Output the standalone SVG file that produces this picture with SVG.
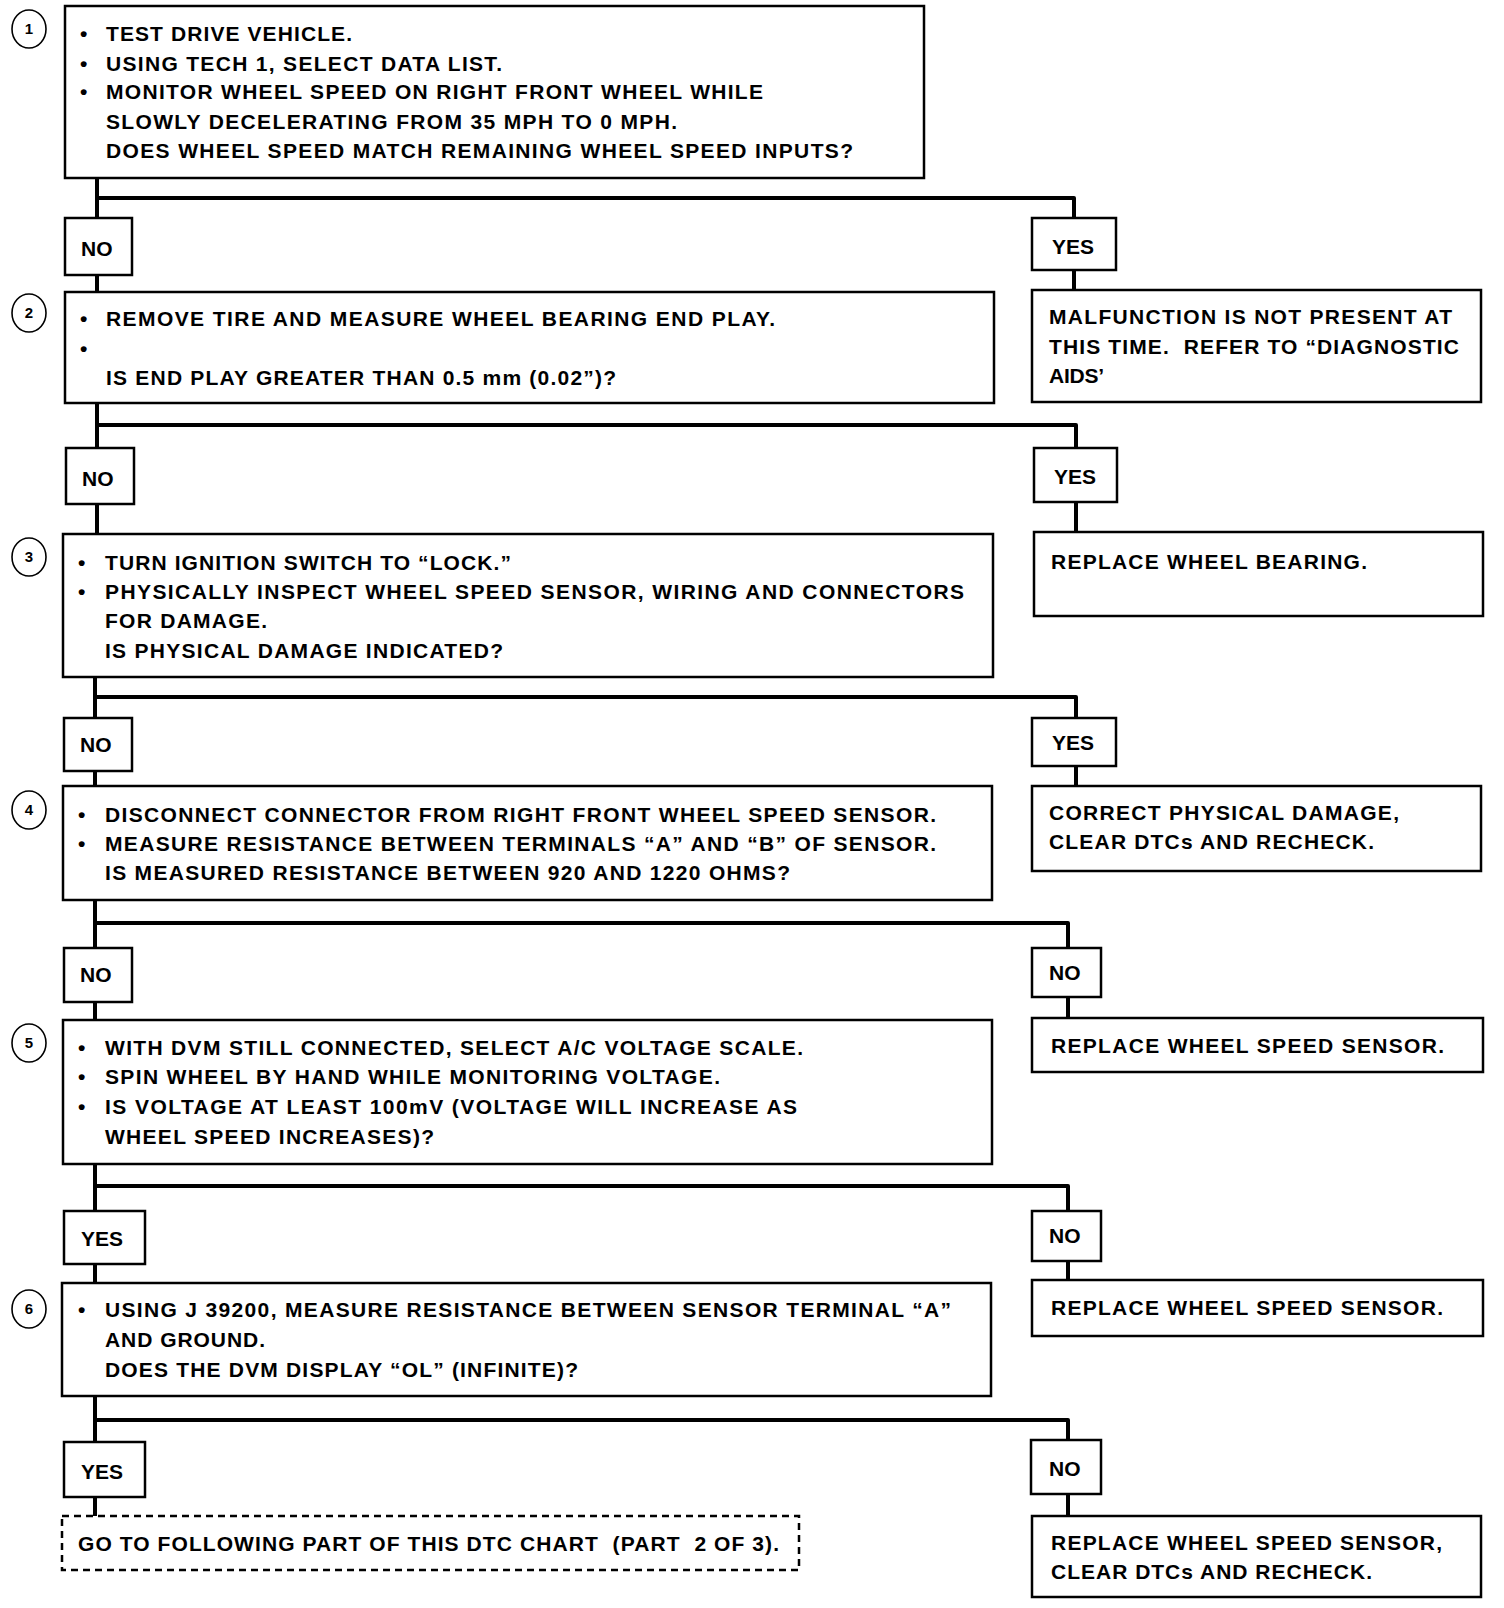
<svg xmlns="http://www.w3.org/2000/svg" width="1504" height="1608" viewBox="0 0 1504 1608">
<style>
.box{fill:#fff;stroke:#000;stroke-width:2.5}
.dash{fill:#fff;stroke:#000;stroke-width:2.5;stroke-dasharray:7 5}
.num{fill:#fff;stroke:#000;stroke-width:1.6}
.t{font-family:"Liberation Sans",Arial,sans-serif;font-weight:bold;font-size:21px;fill:#000}
.p{white-space:pre}
.n{font-family:"Liberation Sans",Arial,sans-serif;font-weight:bold;font-size:15px;fill:#000;text-anchor:middle}
.c{fill:none;stroke:#000;stroke-width:4;stroke-linejoin:round}
</style>
<rect width="1504" height="1608" fill="#fff"/>
<g id="connectors">
<path class="c" d="M97 178V218M97 198H1074V218M97 275V292M1074 270V290"/>
<path class="c" d="M97 403V448M97 425H1076V448M97 504V534M1076 502V532"/>
<path class="c" d="M95 677V718M95 697H1076V718M95 771V786M1076 766V786"/>
<path class="c" d="M95 900V948M95 923H1068V948M95 1002V1020M1068 997V1018"/>
<path class="c" d="M95 1164V1211M95 1186H1068V1211M95 1264V1283M1068 1261V1280"/>
<path class="c" d="M95 1396V1442M95 1420H1068V1440M95 1497V1516M1068 1494V1516"/>
</g>
<g id="step1">
<ellipse class="num" cx="29" cy="29" rx="17" ry="19"/><text class="n" x="29" y="34">1</text>
<rect class="box" x="65" y="6" width="859" height="172"/>
<text class="t" x="80" y="41">•</text><text class="t" x="106" y="41" textLength="246" lengthAdjust="spacing">TEST DRIVE VEHICLE.</text>
<text class="t" x="80" y="71">•</text><text class="t" x="106" y="71" textLength="396" lengthAdjust="spacing">USING TECH 1, SELECT DATA LIST.</text>
<text class="t" x="80" y="99">•</text><text class="t" x="106" y="99" textLength="657" lengthAdjust="spacing">MONITOR WHEEL SPEED ON RIGHT FRONT WHEEL WHILE</text>
<text class="t" x="106" y="129" textLength="571" lengthAdjust="spacing">SLOWLY DECELERATING FROM 35 MPH TO 0 MPH.</text>
<text class="t" x="106" y="158" textLength="747" lengthAdjust="spacing">DOES WHEEL SPEED MATCH REMAINING WHEEL SPEED INPUTS?</text>
</g>
<g id="no1"><rect class="box" x="65" y="218" width="67" height="57"/><text class="t" x="81" y="256">NO</text></g>
<g id="yes1"><rect class="box" x="1032" y="218" width="84" height="52"/><text class="t" x="1052" y="254">YES</text></g>
<g id="result1">
<rect class="box" x="1032" y="290" width="449" height="112"/>
<text class="t" x="1049" y="324" textLength="403" lengthAdjust="spacing">MALFUNCTION IS NOT PRESENT AT</text>
<text class="t p" x="1049" y="354" textLength="410" lengthAdjust="spacing">THIS TIME.  REFER TO “DIAGNOSTIC</text>
<text class="t" x="1049" y="383" textLength="55" lengthAdjust="spacing">AIDS’</text>
</g>
<g id="step2">
<ellipse class="num" cx="29" cy="313" rx="17" ry="19"/><text class="n" x="29" y="318">2</text>
<rect class="box" x="65" y="292" width="929" height="111"/>
<text class="t" x="80" y="326">•</text><text class="t" x="106" y="326" textLength="669" lengthAdjust="spacing">REMOVE TIRE AND MEASURE WHEEL BEARING END PLAY.</text>
<text class="t" x="80" y="356">•</text>
<text class="t" x="106" y="385" textLength="510" lengthAdjust="spacing">IS END PLAY GREATER THAN 0.5 mm (0.02”)?</text>
</g>
<g id="no2"><rect class="box" x="66" y="448" width="68" height="56"/><text class="t" x="82" y="486">NO</text></g>
<g id="yes2"><rect class="box" x="1034" y="448" width="83" height="54"/><text class="t" x="1054" y="484">YES</text></g>
<g id="result2">
<rect class="box" x="1034" y="532" width="449" height="84"/>
<text class="t" x="1051" y="569" textLength="316" lengthAdjust="spacing">REPLACE WHEEL BEARING.</text>
</g>
<g id="step3">
<ellipse class="num" cx="29" cy="557" rx="17" ry="19"/><text class="n" x="29" y="562">3</text>
<rect class="box" x="63" y="534" width="930" height="143"/>
<text class="t" x="78" y="570">•</text><text class="t" x="105" y="570" textLength="406" lengthAdjust="spacing">TURN IGNITION SWITCH TO “LOCK.”</text>
<text class="t" x="78" y="599">•</text><text class="t" x="105" y="599" textLength="859" lengthAdjust="spacing">PHYSICALLY INSPECT WHEEL SPEED SENSOR, WIRING AND CONNECTORS</text>
<text class="t" x="105" y="628" textLength="162" lengthAdjust="spacing">FOR DAMAGE.</text>
<text class="t" x="105" y="658" textLength="398" lengthAdjust="spacing">IS PHYSICAL DAMAGE INDICATED?</text>
</g>
<g id="no3"><rect class="box" x="64" y="718" width="68" height="53"/><text class="t" x="80" y="752">NO</text></g>
<g id="yes3"><rect class="box" x="1032" y="718" width="84" height="48"/><text class="t" x="1052" y="750">YES</text></g>
<g id="result3">
<rect class="box" x="1032" y="786" width="449" height="85"/>
<text class="t" x="1049" y="820" textLength="350" lengthAdjust="spacing">CORRECT PHYSICAL DAMAGE,</text>
<text class="t" x="1049" y="849" textLength="325" lengthAdjust="spacing">CLEAR DTCs AND RECHECK.</text>
</g>
<g id="step4">
<ellipse class="num" cx="29" cy="810" rx="17" ry="19"/><text class="n" x="29" y="815">4</text>
<rect class="box" x="63" y="786" width="929" height="114"/>
<text class="t" x="78" y="822">•</text><text class="t" x="105" y="822" textLength="831" lengthAdjust="spacing">DISCONNECT CONNECTOR FROM RIGHT FRONT WHEEL SPEED SENSOR.</text>
<text class="t" x="78" y="851">•</text><text class="t" x="105" y="851" textLength="831" lengthAdjust="spacing">MEASURE RESISTANCE BETWEEN TERMINALS “A” AND “B” OF SENSOR.</text>
<text class="t" x="105" y="880" textLength="685" lengthAdjust="spacing">IS MEASURED RESISTANCE BETWEEN 920 AND 1220 OHMS?</text>
</g>
<g id="no4"><rect class="box" x="64" y="948" width="68" height="54"/><text class="t" x="80" y="982">NO</text></g>
<g id="no4r"><rect class="box" x="1032" y="948" width="69" height="49"/><text class="t" x="1049" y="980">NO</text></g>
<g id="result4">
<rect class="box" x="1032" y="1018" width="451" height="54"/>
<text class="t" x="1051" y="1053" textLength="393" lengthAdjust="spacing">REPLACE WHEEL SPEED SENSOR.</text>
</g>
<g id="step5">
<ellipse class="num" cx="29" cy="1043" rx="17" ry="19"/><text class="n" x="29" y="1048">5</text>
<rect class="box" x="63" y="1020" width="929" height="144"/>
<text class="t" x="78" y="1055">•</text><text class="t" x="105" y="1055" textLength="698" lengthAdjust="spacing">WITH DVM STILL CONNECTED, SELECT A/C VOLTAGE SCALE.</text>
<text class="t" x="78" y="1084">•</text><text class="t" x="105" y="1084" textLength="615" lengthAdjust="spacing">SPIN WHEEL BY HAND WHILE MONITORING VOLTAGE.</text>
<text class="t" x="78" y="1114">•</text><text class="t" x="105" y="1114" textLength="692" lengthAdjust="spacing">IS VOLTAGE AT LEAST 100mV (VOLTAGE WILL INCREASE AS</text>
<text class="t" x="105" y="1144" textLength="329" lengthAdjust="spacing">WHEEL SPEED INCREASES)?</text>
</g>
<g id="yes5"><rect class="box" x="64" y="1211" width="81" height="53"/><text class="t" x="81" y="1246">YES</text></g>
<g id="no5r"><rect class="box" x="1032" y="1211" width="69" height="50"/><text class="t" x="1049" y="1243">NO</text></g>
<g id="result5">
<rect class="box" x="1032" y="1280" width="451" height="56"/>
<text class="t" x="1051" y="1315" textLength="392" lengthAdjust="spacing">REPLACE WHEEL SPEED SENSOR.</text>
</g>
<g id="step6">
<ellipse class="num" cx="29" cy="1309" rx="17" ry="19"/><text class="n" x="29" y="1314">6</text>
<rect class="box" x="62" y="1283" width="929" height="113"/>
<text class="t" x="78" y="1317">•</text><text class="t" x="105" y="1317" textLength="846" lengthAdjust="spacing">USING J 39200, MEASURE RESISTANCE BETWEEN SENSOR TERMINAL “A”</text>
<text class="t" x="105" y="1347" textLength="160" lengthAdjust="spacing">AND GROUND.</text>
<text class="t" x="105" y="1377" textLength="473" lengthAdjust="spacing">DOES THE DVM DISPLAY “OL” (INFINITE)?</text>
</g>
<g id="yes6"><rect class="box" x="64" y="1442" width="81" height="55"/><text class="t" x="81" y="1479">YES</text></g>
<g id="no6"><rect class="box" x="1031" y="1440" width="70" height="54"/><text class="t" x="1049" y="1476">NO</text></g>
<g id="goto">
<rect class="dash" x="62" y="1516" width="737" height="54"/>
<text class="t p" x="78" y="1551" textLength="701" lengthAdjust="spacing">GO TO FOLLOWING PART OF THIS DTC CHART  (PART  2 OF 3).</text>
</g>
<g id="result6">
<rect class="box" x="1032" y="1516" width="449" height="81"/>
<text class="t" x="1051" y="1550" textLength="391" lengthAdjust="spacing">REPLACE WHEEL SPEED SENSOR,</text>
<text class="t" x="1051" y="1579" textLength="321" lengthAdjust="spacing">CLEAR DTCs AND RECHECK.</text>
</g>
</svg>
